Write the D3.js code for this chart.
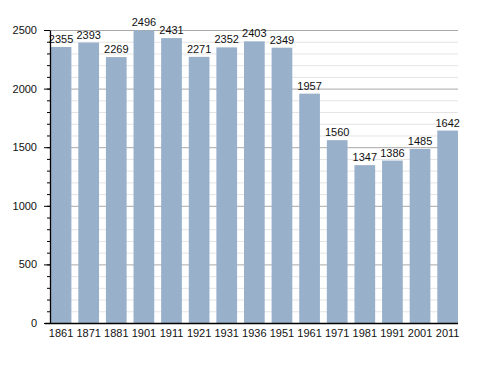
<!DOCTYPE html>
<html>
<head>
<meta charset="utf-8">
<script src="https://cdn.jsdelivr.net/npm/d3@7"></script>
<style>
  body { margin: 0; background: #fff; }
  svg text { font-family: "Liberation Sans", Arial, sans-serif; font-size: 11px; fill: #111; }
</style>
</head>
<body>
<svg id="chart" width="488" height="373"></svg>
<script>
// census years and population
var years = ["1861", "1871", "1881", "1901", "1911", "1921", "1931", "1936", "1951", "1961", "1971", "1981", "1991", "2001", "2011"];
var population = [2355, 2393, 2269, 2496, 2431, 2271, 2352, 2403, 2349, 1957, 1560, 1347, 1386, 1485, 1642];
var yTicks = [0, 500, 1000, 1500, 2000, 2500];

var data = years.map(function (y, i) { return { year: y, value: population[i] }; });

var svg = d3.select("#chart"),
    margin = { top: 30, left: 50, bottom: 50, right: 30 },
    width = +svg.attr("width"),
    height = +svg.attr("height");

var x = d3.scaleBand()
    .domain(years)
    .range([margin.left + 0.7, width - margin.right])
    .paddingInner(0.25)
    .paddingOuter(0);

var y = d3.scaleLinear()
    .domain([0, 2500])
    .range([height - margin.bottom, margin.top]);

// minor grid every 100
var minor = d3.range(100, 2501, 100).filter(function (d) { return d % 500 != 0; });
svg.append("g").selectAll("line")
    .data(minor)
    .enter().append("line")
    .attr("x1", margin.left).attr("x2", width - margin.right)
    .attr("y1", d => y(d) + 0.5).attr("y2", d => y(d) + 0.5)
    .attr("stroke", "#e4e4e4");

// major grid
svg.append("g").selectAll("line")
    .data(yTicks.slice(1))
    .enter().append("line")
    .attr("x1", margin.left).attr("x2", width - margin.right)
    .attr("y1", d => y(d) + 0.5).attr("y2", d => y(d) + 0.5)
    .attr("stroke", "#a8a8a8");

// bars
svg.append("g").selectAll("rect")
    .data(data)
    .enter().append("rect")
    .attr("x", d => x(d.year))
    .attr("y", d => y(d.value))
    .attr("width", x.bandwidth())
    .attr("height", d => y(0) - y(d.value))
    .attr("fill", "#99b0cb");

// value labels
svg.append("g").selectAll("text")
    .data(data)
    .enter().append("text")
    .attr("x", d => x(d.year) + x.bandwidth() / 2)
    .attr("y", d => y(d.value) - 4)
    .attr("text-anchor", "middle")
    .text(d => d.value);

// y axis with minor ticks
var yAxis = svg.append("g")
    .attr("transform", `translate(${margin.left},0)`);
yAxis.call(d3.axisLeft(y).tickValues(d3.range(0, 2501, 100)).tickSize(3).tickFormat(""))
    .select(".domain").remove();
yAxis.selectAll("line").attr("stroke", "#000");

var yMajor = svg.append("g")
    .attr("transform", `translate(${margin.left},0)`)
    .call(d3.axisLeft(y).tickValues(yTicks).tickSize(6).tickPadding(7).tickSizeOuter(0).tickFormat(d3.format("d")));
yMajor.select(".domain").attr("stroke", "#000").attr("stroke-width", 1.3);
yMajor.selectAll("line").attr("stroke", "#000");
yMajor.selectAll("text").style("font-size", "11px");

// x axis
var xAxis = svg.append("g")
    .attr("transform", `translate(0,${height - margin.bottom})`)
    .call(d3.axisBottom(x).tickSize(0).tickPadding(6));
xAxis.select(".domain").remove();
xAxis.selectAll("text").style("font-size", "11px");

svg.append("line")
    .attr("x1", margin.left - 5).attr("x2", width - margin.right)
    .attr("y1", y(0) + 0.5).attr("y2", y(0) + 0.5)
    .attr("stroke", "#000").attr("stroke-width", 1.3);
</script>
</body>
</html>
